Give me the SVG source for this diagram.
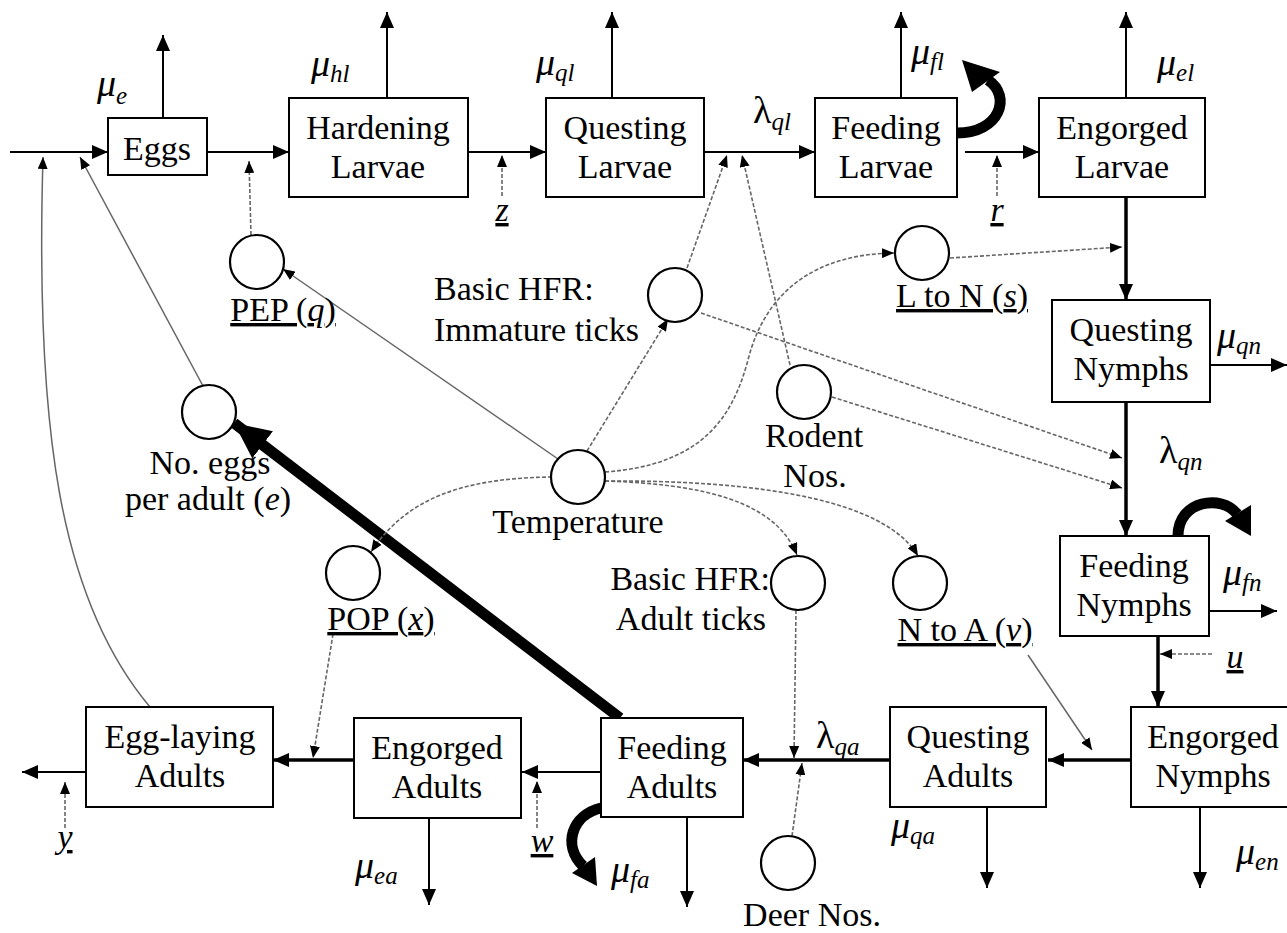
<svg xmlns="http://www.w3.org/2000/svg" width="1287" height="933" viewBox="0 0 1287 933" font-family="'Liberation Serif', 'Times New Roman', 'DejaVu Serif', serif">
  <defs>
    <marker id="ah" viewBox="0 0 16 14" refX="16" refY="7" markerWidth="16" markerHeight="14" markerUnits="userSpaceOnUse" orient="auto">
      <path d="M0,0 L16,7 L0,14 z" fill="#000"/>
    </marker>
    <marker id="as" viewBox="0 0 12 10" refX="12" refY="5" markerWidth="12" markerHeight="10" markerUnits="userSpaceOnUse" orient="auto">
      <path d="M0,0 L12,5 L0,10 z" fill="#000"/>
    </marker>
    <marker id="ab" viewBox="0 0 36 34" refX="36" refY="17" markerWidth="36" markerHeight="34" markerUnits="userSpaceOnUse" orient="auto">
      <path d="M0,0 L36,17 L0,34 z" fill="#000"/>
    </marker>
  </defs>
  <style>
    .box{fill:#fff;stroke:#000;stroke-width:2}
    .cir{fill:#fff;stroke:#000;stroke-width:2.2}
    text{font-family:'Liberation Serif','Times New Roman','DejaVu Serif',serif}
    .lbl{font-size:34px;fill:#000;text-anchor:middle}
    .end{text-anchor:end}
    .start{text-anchor:start}
    .var{font-style:italic;font-size:34px;fill:#000;text-anchor:middle}
    .rate{font-size:38px;font-style:italic;fill:#000}
    .rate .sub{font-size:25px;font-style:italic}
    .up{font-style:normal}
    .flow{fill:none;stroke:#000;stroke-width:2;marker-end:url(#ah)}
    .heavy{stroke-width:3.5}
    .dash{fill:none;stroke:#666;stroke-width:1.6;stroke-dasharray:4 2;marker-end:url(#as)}
    .thin{fill:none;stroke:#666;stroke-width:1.5;marker-end:url(#as)}
    .loop{fill:none;stroke:#000;stroke-width:11}
  </style>
  <rect width="1287" height="933" fill="#fff"/>

  <!-- connectors -->
  <g id="connectors">
    <!-- larval chain -->
    <path class="flow" d="M10,152 H108"/>
    <path class="flow" d="M207,152 H289"/>
    <path class="flow" d="M468,152 H546"/>
    <path class="flow" d="M704,152 H815"/>
    <path class="flow" d="M965,152 H1039"/>
    <!-- larval mortality -->
    <path class="flow" d="M163,118 V35"/>
    <path class="flow" d="M387,98 V12"/>
    <path class="flow" d="M612,98 V12"/>
    <path class="flow" d="M901,98 V12"/>
    <path class="flow" d="M1126,98 V12"/>
    <!-- nymphal chain -->
    <path class="flow heavy" d="M1126,197 V300"/>
    <path class="flow heavy" d="M1126,402 V536"/>
    <path class="flow" d="M1210,365 H1287"/>
    <path class="flow" d="M1209,611 H1277"/>
    <path class="flow heavy" d="M1158,636 V707"/>
    <!-- adult chain -->
    <path class="flow heavy" d="M1131,760 H1048"/>
    <path class="flow heavy" d="M890,760 H743"/>
    <path class="flow" d="M601,772 H522"/>
    <path class="flow heavy" d="M354,760 H273"/>
    <path class="flow" d="M86,772 H22"/>
    <!-- nymph/adult mortality -->
    <path class="flow" d="M1200,807 V888"/>
    <path class="flow" d="M987,807 V888"/>
    <path class="flow" d="M687,817 V907"/>
    <path class="flow" d="M429,818 V905"/>

    <!-- feeding loss loops -->
    <path class="loop" d="M957,133 C1000,133 1012,96 988,80"/>
    <polygon points="962,60 972,92 1000,72" fill="#000"/>
    <path class="loop" d="M1178,536 C1178,500 1222,494 1237,514"/>
    <polygon points="1251,536 1225,521 1251,505" fill="#000"/>
    <path class="loop" d="M601,808 C572,815 562,845 583,866"/>
    <polygon points="597,886 572,873 595,857" fill="#000"/>

    <!-- egg production -->
    <path d="M620,718 L234,423" fill="none" stroke="#000" stroke-width="11" marker-end="url(#ab)"/>
    <path class="thin" d="M203,386 L80,157"/>
    <path class="thin" d="M150,707 C60,600 35,430 43,157"/>

    <!-- temperature drivers -->
    <path class="thin" d="M558,459 L283,269"/>
    <path class="dash" d="M587,451 L668,319"/>
    <path class="dash" d="M605,472 C700,465 732,420 748,360 C765,292 815,254 894,253"/>
    <path class="dash" d="M552,477 C460,478 405,500 371,552"/>
    <path class="dash" d="M605,481 C700,484 775,500 797,555"/>
    <path class="dash" d="M605,481 C760,480 885,500 918,556"/>

    <!-- rate modifiers on transitions -->
    <path class="dash" d="M251,235 L249,161"/>
    <path class="dash" d="M502,196 V155"/>
    <path class="dash" d="M997,196 V155"/>
    <path class="dash" d="M687,268 L727,155"/>
    <path class="dash" d="M790,365 L742,155"/>
    <path class="dash" d="M950,258 L1122,247"/>
    <path class="dash" d="M701,313 L1122,458"/>
    <path class="dash" d="M832,397 L1122,488"/>
    <path class="dash" d="M1212,654 H1160"/>
    <path class="thin" d="M1028,655 L1092,750"/>
    <path class="dash" d="M796,610 L794,758"/>
    <path class="dash" d="M792,836 L802,763"/>
    <path class="dash" d="M333,634 L313,758"/>
    <path class="dash" d="M537,828 V781"/>
    <path class="dash" d="M65,828 V782"/>
  </g>

  <!-- stage compartments -->
  <g id="eggs"><rect class="box" x="108" y="118" width="99" height="57"/><text class="lbl" x="157" y="160">Eggs</text></g>
  <g id="hardening-larvae"><rect class="box" x="289" y="98" width="179" height="99"/><text class="lbl" x="378" y="139">Hardening</text><text class="lbl" x="378" y="178">Larvae</text></g>
  <g id="questing-larvae"><rect class="box" x="546" y="98" width="158" height="99"/><text class="lbl" x="625" y="139">Questing</text><text class="lbl" x="625" y="178">Larvae</text></g>
  <g id="feeding-larvae"><rect class="box" x="815" y="98" width="142" height="99"/><text class="lbl" x="886" y="139">Feeding</text><text class="lbl" x="886" y="178">Larvae</text></g>
  <g id="engorged-larvae"><rect class="box" x="1039" y="98" width="166" height="99"/><text class="lbl" x="1122" y="139">Engorged</text><text class="lbl" x="1122" y="178">Larvae</text></g>
  <g id="questing-nymphs"><rect class="box" x="1052" y="300" width="158" height="102"/><text class="lbl" x="1131" y="341">Questing</text><text class="lbl" x="1131" y="380">Nymphs</text></g>
  <g id="feeding-nymphs"><rect class="box" x="1060" y="536" width="149" height="100"/><text class="lbl" x="1134" y="577">Feeding</text><text class="lbl" x="1134" y="616">Nymphs</text></g>
  <g id="engorged-nymphs"><rect class="box" x="1131" y="707" width="180" height="100"/><text class="lbl" x="1213" y="748">Engorged</text><text class="lbl" x="1213" y="787">Nymphs</text></g>
  <g id="questing-adults"><rect class="box" x="890" y="707" width="156" height="100"/><text class="lbl" x="968" y="748">Questing</text><text class="lbl" x="968" y="787">Adults</text></g>
  <g id="feeding-adults"><rect class="box" x="601" y="718" width="142" height="99"/><text class="lbl" x="672" y="759">Feeding</text><text class="lbl" x="672" y="798">Adults</text></g>
  <g id="engorged-adults"><rect class="box" x="354" y="718" width="167" height="100"/><text class="lbl" x="437" y="759">Engorged</text><text class="lbl" x="437" y="798">Adults</text></g>
  <g id="egg-laying-adults"><rect class="box" x="86" y="707" width="187" height="100"/><text class="lbl" x="180" y="748">Egg-laying</text><text class="lbl" x="180" y="787">Adults</text></g>

  <!-- driver variables -->
  <g id="pep"><circle class="cir" cx="257" cy="262" r="27"/><text class="lbl" x="283" y="321" text-decoration="underline">PEP (<tspan font-style="italic">q</tspan>)</text></g>
  <g id="hfr-immature"><circle class="cir" cx="675" cy="295" r="27"/><text class="lbl start" x="434" y="300">Basic HFR:</text><text class="lbl start" x="434" y="341">Immature ticks</text></g>
  <g id="l-to-n"><circle class="cir" cx="922" cy="253" r="27"/><text class="lbl" x="962" y="307" text-decoration="underline">L to N (<tspan font-style="italic">s</tspan>)</text></g>
  <g id="rodent"><circle class="cir" cx="804" cy="392" r="27"/><text class="lbl" x="814" y="447">Rodent</text><text class="lbl" x="815" y="487">Nos.</text></g>
  <g id="eggs-per-adult"><circle class="cir" cx="209" cy="412" r="27"/><text class="lbl" x="210" y="474">No. eggs</text><text class="lbl" x="208" y="510">per adult (<tspan font-style="italic">e</tspan>)</text></g>
  <g id="temperature"><circle class="cir" cx="578" cy="477" r="27"/><text class="lbl" x="578" y="533">Temperature</text></g>
  <g id="pop"><circle class="cir" cx="353" cy="573" r="27"/><text class="lbl" x="381" y="630" text-decoration="underline">POP (<tspan font-style="italic">x</tspan>)</text></g>
  <g id="hfr-adult"><circle class="cir" cx="798" cy="583" r="27"/><text class="lbl end" x="770" y="590">Basic HFR:</text><text class="lbl end" x="766" y="630">Adult ticks</text></g>
  <g id="n-to-a"><circle class="cir" cx="920" cy="583" r="27"/><text class="lbl" x="965" y="641" text-decoration="underline">N to A (<tspan font-style="italic">v</tspan>)</text></g>
  <g id="deer"><circle class="cir" cx="788" cy="863" r="27"/><text class="lbl" x="812" y="926">Deer Nos.</text></g>

  <!-- transition parameters -->
  <g id="params">
    <text class="var" x="502" y="221" text-decoration="underline">z</text>
    <text class="var" x="997" y="221" text-decoration="underline">r</text>
    <text class="var" x="1235" y="668" text-decoration="underline">u</text>
    <text class="var" x="542" y="852" text-decoration="underline">w</text>
    <text class="var" x="65" y="848" text-decoration="underline">y</text>
  </g>

  <!-- mortality and host-finding rates -->
  <g id="rates">
    <text class="rate" x="97" y="96">μ<tspan class="sub" dy="8">e</tspan></text>
    <text class="rate" x="311" y="76">μ<tspan class="sub" dy="6">hl</tspan></text>
    <text class="rate" x="536" y="75">μ<tspan class="sub" dy="6">ql</tspan></text>
    <text class="rate" x="911" y="64">μ<tspan class="sub" dy="6">fl</tspan></text>
    <text class="rate" x="1157" y="75">μ<tspan class="sub" dy="6">el</tspan></text>
    <text class="rate" x="1217" y="348">μ<tspan class="sub" dy="6">qn</tspan></text>
    <text class="rate" x="1223" y="585">μ<tspan class="sub" dy="6">fn</tspan></text>
    <text class="rate" x="1236" y="864">μ<tspan class="sub" dy="6">en</tspan></text>
    <text class="rate" x="891" y="838">μ<tspan class="sub" dy="6">qa</tspan></text>
    <text class="rate" x="611" y="882">μ<tspan class="sub" dy="6">fa</tspan></text>
    <text class="rate" x="355" y="878">μ<tspan class="sub" dy="6">ea</tspan></text>
    <text class="rate" x="753" y="123"><tspan class="up">λ</tspan><tspan class="sub" dy="7">ql</tspan></text>
    <text class="rate" x="1159" y="463"><tspan class="up">λ</tspan><tspan class="sub" dy="7">qn</tspan></text>
    <text class="rate" x="816" y="748"><tspan class="up">λ</tspan><tspan class="sub" dy="7">qa</tspan></text>
  </g>
</svg>
